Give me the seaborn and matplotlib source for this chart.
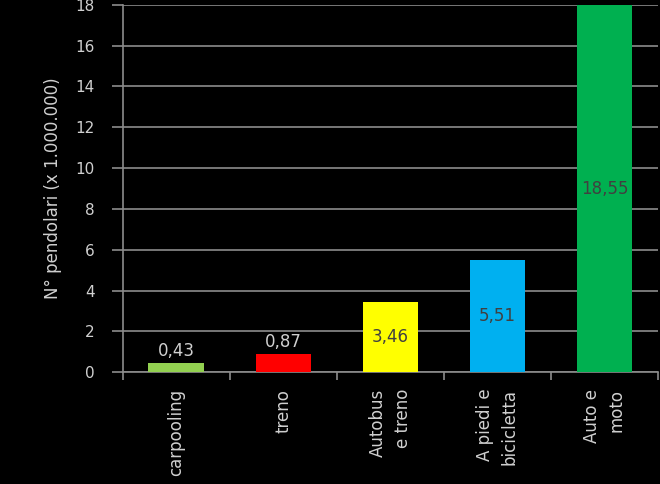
import numpy as np
import pandas as pd
import matplotlib
matplotlib.use('Agg')
import matplotlib.pyplot as plt
import seaborn as sns

categorie = ['carpooling', 'treno', 'Autobus\ne treno', 'A piedi e\nbicicletta', 'Auto e\nmoto']
valori = [0.43, 0.87, 3.46, 5.51, 18.55]
etichette = ['0,43', '0,87', '3,46', '5,51', '18,55']
colori = ['#92D050', '#FF0000', '#FFFF00', '#00B0F0', '#00B050']
yticks = [0, 2, 4, 6, 8, 10, 12, 14, 16, 18]

df = pd.DataFrame({'mezzo': categorie, 'valore': valori})

sns.set_theme(style='dark')
plt.rcParams['font.family'] = ['DejaVu Sans']

fig = plt.figure(figsize=(6.6, 4.84), dpi=100, facecolor='black')
ax = fig.add_axes([0.186, 0.231, 0.811, 0.759])
ax.set_facecolor('black')

sns.barplot(data=df, x='mezzo', y='valore', hue='mezzo', palette=colori,
            width=0.52, saturation=1, legend=False, ax=ax, zorder=3,
            edgecolor='none', linewidth=0)

ax.set_ylim(0, 18)
ax.set_xlim(-0.5, len(categorie) - 0.5)
ax.set_yticks(yticks)
ax.set_yticklabels([str(t) for t in yticks], color='#d0d0d0', fontsize=11)
ax.yaxis.grid(True, color='#8c8c8c', linewidth=1.2, zorder=0)
ax.xaxis.grid(False)

# tacche sui confini delle categorie, etichette al centro
ax.set_xticks(np.arange(-0.5, len(categorie)), minor=False)
ax.set_xticklabels([])
ax.set_xticks(np.arange(len(categorie)), minor=True)
ax.set_xticklabels(categorie, minor=True, rotation=90, color='#d0d0d0',
                   fontsize=12, va='top', ha='center', multialignment='right',
                   linespacing=1.5)
ax.tick_params(axis='x', which='minor', length=0, pad=12)
ax.tick_params(axis='x', which='major', length=6, width=1.2, color='#8c8c8c', direction='out', bottom=True)
ax.tick_params(axis='y', length=8, width=1.2, color='#8c8c8c', direction='out', left=True, pad=12)

for s in ['top', 'right']:
    ax.spines[s].set_visible(False)
for s in ['left', 'bottom']:
    ax.spines[s].set_visible(True)
    ax.spines[s].set_color('#8c8c8c')
    ax.spines[s].set_linewidth(1.2)

ax.set_xlabel('')
ax.set_ylabel('N° pendolari (x 1.000.000)', color='#d0d0d0', fontsize=12, labelpad=10)

for i, (v, t) in enumerate(zip(valori, etichette)):
    if v < 2:
        ax.text(i, v + 0.15, t, ha='center', va='bottom', color='#d0d0d0', fontsize=12, zorder=4)
    else:
        ax.text(i, min(v, 18) / 2, t, ha='center', va='center', color='#404040', fontsize=12, zorder=4)

fig.savefig('out.png', dpi=100, facecolor='black')
